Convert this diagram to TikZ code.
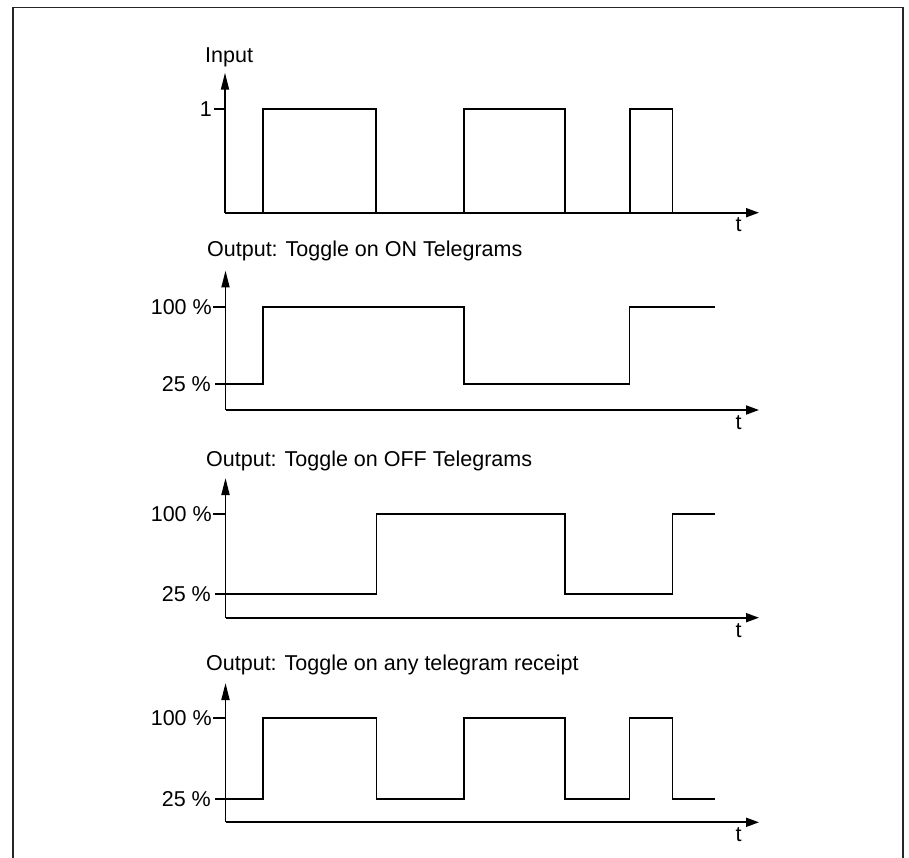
\documentclass[tikz,border=0pt]{standalone}
\usepackage{fontspec}
\setmainfont{Liberation Sans}
\usetikzlibrary{arrows.meta}
\tikzset{
  axisv/.style={line width=1.8pt, -{Triangle[length=17pt,width=8pt]}},
  axish/.style={line width=1.8pt, -{Triangle[length=13pt,width=9pt]}},
  wave/.style={line width=1.8pt, line join=miter},
  tickline/.style={line width=1.8pt},
  lbl/.style={inner sep=0pt, font=\fontsize{21.5}{25}\selectfont},
  frameline/.style={line width=1.2pt, draw=black!85}
}
\begin{document}
\begin{tikzpicture}[x=1pt,y=-1pt]
\useasboundingbox (0,0) rectangle (909,858);
% frame (open at bottom)
\coordinate (fbl) at (13,858);
\coordinate (ftl) at (13,7.3);
\coordinate (ftr) at (903,7.3);
\coordinate (fbr) at (903,858);
\draw[frameline] (fbl) -- (ftl) -- (ftr) -- (fbr);

% ---------- Panel 1: Input ----------
\node[lbl, anchor=base west] (t1) at (205,62.7) {Input};
\coordinate (o1) at (225,212.7);
\coordinate (y1) at (225,72.7);
\coordinate (x1) at (759,212.7);
\draw[axisv] (o1) -- (y1);
\draw[axish] (o1) -- (x1);
\coordinate (k1a) at (214,108.7);
\coordinate (k1b) at (225,108.7);
\draw[tickline] (k1a) -- (k1b);
\node[lbl, anchor=base east] (one) at (212,116.2) {1};
\node[lbl, anchor=base] (tt1) at (738.5,232) {t};
\draw[wave] (262.7,212.7) |- (376,108.7) |- (464.3,212.7);
\draw[wave] (464.3,212.7) |- (565,108.7) -- (565,212.7);
\draw[wave] (629.7,212.7) |- (672.5,108.7) -- (672.5,212.7);

% ---------- Panel 2: Toggle on ON ----------
\node[lbl, anchor=base west] (t2) at (207,256.7) {Output: Toggle on ON Telegrams};
\coordinate (o2) at (225.5,410);
\coordinate (y2) at (225.5,270.5);
\coordinate (x2) at (759,410);
\draw[axisv] (o2) -- (y2);
\draw[axish] (o2) -- (x2);
\draw[tickline] (213,306.7) -- (225.5,306.7);
\node[lbl, anchor=base east] (h2) at (212,314.2) {100 \%};
\node[lbl, anchor=base east] (l2) at (211,391.5) {25 \%};
\node[lbl, anchor=base] (tt2) at (738.5,429.5) {t};
\draw[wave] (215,384) -| (262.7,306.7) -| (464.3,384) -| (629.5,306.7) -- (714.5,306.7);

% ---------- Panel 3: Toggle on OFF ----------
\node[lbl, anchor=base west] (t3) at (206,466) {Output: Toggle on OFF Telegrams};
\coordinate (o3) at (225.5,617.7);
\coordinate (y3) at (225.5,478);
\coordinate (x3) at (759,617.7);
\draw[axisv] (o3) -- (y3);
\draw[axish] (o3) -- (x3);
\draw[tickline] (213,514) -- (225.5,514);
\node[lbl, anchor=base east] (h3) at (212,521.5) {100 \%};
\node[lbl, anchor=base east] (l3) at (211,601.5) {25 \%};
\node[lbl, anchor=base] (tt3) at (738.5,637.2) {t};
\draw[wave] (215,594) -| (376.5,514) -| (565,594) -| (672.5,514) -- (714.5,514);

% ---------- Panel 4: Toggle on any ----------
\node[lbl, anchor=base west] (t4) at (206,670) {Output: Toggle on any telegram receipt};
\coordinate (o4) at (225.5,822.3);
\coordinate (y4) at (225.5,683);
\coordinate (x4) at (759,822.3);
\draw[axisv] (o4) -- (y4);
\draw[axish] (o4) -- (x4);
\draw[tickline] (213,718) -- (225.5,718);
\node[lbl, anchor=base east] (h4) at (212,725.5) {100 \%};
\node[lbl, anchor=base east] (l4) at (211,806.5) {25 \%};
\node[lbl, anchor=base] (tt4) at (738.5,841.8) {t};
\draw[wave] (215,799) -| (262.7,718) -| (376.5,799) -| (464.3,718) -| (565,799) -| (629.5,718) -| (672.5,799) -- (714.5,799);
\end{tikzpicture}
\end{document}
